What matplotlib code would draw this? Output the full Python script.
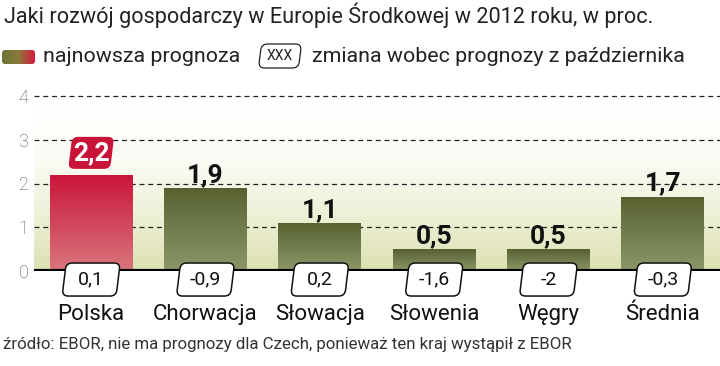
import numpy as np
import matplotlib.pyplot as plt
from matplotlib.colors import LinearSegmentedColormap
from matplotlib.patches import FancyBboxPatch
from matplotlib.transforms import Affine2D, ScaledTranslation

# data
countries = ['Polska', 'Chorwacja', 'Słowacja', 'Słowenia', 'Węgry', 'Średnia']
forecast = [2.2, 1.9, 1.1, 0.5, 0.5, 1.7]
change = ['0,1', '-0,9', '0,2', '-1,6', '-2', '-0,3']
value_labels = ['2,2', '1,9', '1,1', '0,5', '0,5', '1,7']
yticks = [0, 1, 2, 3, 4]

plt.rcParams['font.family'] = ['Roboto', 'DejaVu Sans']

fig = plt.figure(figsize=(7.2, 3.66), dpi=100)
ax = fig.add_axes([34 / 720, (366 - 271) / 366, 1 - 34 / 720, 175 / 366])
ax.set_xlim(-0.5, 5.5)
ax.set_ylim(0, 4)
ax.patch.set_alpha(0)
for s in ax.spines.values():
    s.set_visible(False)


def slanted_box(x, y, w, h, trans, **kw):
    # rounded box leaning to the right, sized in pixels, centred at (x, y)
    off = ScaledTranslation(x, y, trans)
    return FancyBboxPatch((-w / 2, -h / 2), w, h,
                          boxstyle='round,pad=0,rounding_size=6',
                          transform=Affine2D().skew_deg(7, 0) + off, **kw)


# background gradient
bg = LinearSegmentedColormap.from_list('bg', ['#dce0b2', '#eef0d6', '#fbfbf4', '#ffffff'])
grad = np.linspace(0, 1, 256).reshape(-1, 1)
ax.imshow(grad, cmap=bg, aspect='auto', extent=(-0.5, 5.5, 0, 3.75),
          origin='lower', zorder=0)

# grid lines
for t in yticks[1:]:
    ax.axhline(t, color='#222222', lw=0.9, ls=(0, (4, 3)), zorder=1, clip_on=False)
ax.axhline(0, color='black', lw=3, zorder=4)

ax.set_xticks([])
ax.set_yticks(yticks)
ax.set_yticklabels([str(t) for t in yticks], fontsize=13, color='#555555',
                   fontweight='light')
ax.tick_params(axis='y', length=0, pad=4)

red = LinearSegmentedColormap.from_list('red', ['#d9777d', '#c9143a'])
green = LinearSegmentedColormap.from_list('green', ['#8c9769', '#576130'])

bars = ax.bar(range(len(countries)), forecast, width=0.725, color='none', zorder=2)
for i, (b, v) in enumerate(zip(bars, forecast)):
    cmap = red if i == 0 else green
    im = ax.imshow(grad, cmap=cmap, aspect='auto', origin='lower',
                   extent=(b.get_x(), b.get_x() + b.get_width(), 0, v), zorder=2)
    im.set_clip_path(b)

# value labels
for i, v in enumerate(forecast):
    if i == 0:
        ax.add_patch(slanted_box(i, v + 0.5, 42, 32, ax.transData,
                                 fc='#c9143a', ec='none', zorder=5, clip_on=False))
        ax.text(i, v + 0.5, value_labels[i], ha='center', va='center',
                fontsize=19, fontweight='bold', color='white', zorder=6)
    else:
        ax.text(i, v + 0.14, value_labels[i], ha='center', va='baseline',
                fontsize=19, fontweight='bold', color='#111111', zorder=6)

# change boxes and country names below bars
for i, c in enumerate(change):
    ax.add_patch(slanted_box(i, -0.195, 54, 33, ax.transData, fc='white',
                             ec='#111111', lw=1.1, clip_on=False, zorder=7))
    ax.text(i, -0.195, c, ha='center', va='center', fontsize=14,
            color='#111111', zorder=8, clip_on=False)
    ax.text(i, -1.0, countries[i], ha='center', va='center', fontsize=16,
            color='#111111', clip_on=False)

# title and legend
fig.text(4 / 720, 1 - 15 / 366, 'Jaki rozwój gospodarczy w Europie Środkowej w 2012 roku, w proc.',
         ha='left', va='center', fontsize=15.6, color='#222222')

sw = fig.add_axes([2 / 720, 1 - 64 / 366, 33 / 720, 14 / 366])
sw.set_xlim(0, 1)
sw.set_ylim(0, 1)
sw.axis('off')
swim = sw.imshow(np.linspace(0, 1, 64).reshape(1, -1), aspect='auto', extent=(0, 1, 0, 1),
                 cmap=LinearSegmentedColormap.from_list('sw', ['#6b7438', '#8a7a3a', '#d7193f']))
swclip = FancyBboxPatch((0, 0), 1, 1, boxstyle='round,pad=0,rounding_size=0.09',
                        mutation_aspect=2.36, fc='none', ec='none', transform=sw.transAxes)
sw.add_patch(swclip)
swim.set_clip_path(swclip)

fig.text(43 / 720, 1 - 57 / 366, 'najnowsza prognoza', ha='left', va='center',
         fontsize=15.4, color='#222222')
fig.patches.append(slanted_box(280 / 720, 1 - 56 / 366, 40, 24, fig.transFigure,
                               fc='white', ec='#222222', lw=0.9))
fig.text(280 / 720, 1 - 56 / 366, 'XXX', ha='center', va='center', fontsize=10,
         color='#222222')
fig.text(312 / 720, 1 - 57 / 366, 'zmiana wobec prognozy z października',
         ha='left', va='center', fontsize=15.4, color='#222222')

fig.text(3 / 720, 1 - 345 / 366,
         'źródło: EBOR, nie ma prognozy dla Czech, ponieważ ten kraj wystąpił z EBOR',
         ha='left', va='center', fontsize=12.2, color='#333333')

fig.savefig('out.png', dpi=100)
